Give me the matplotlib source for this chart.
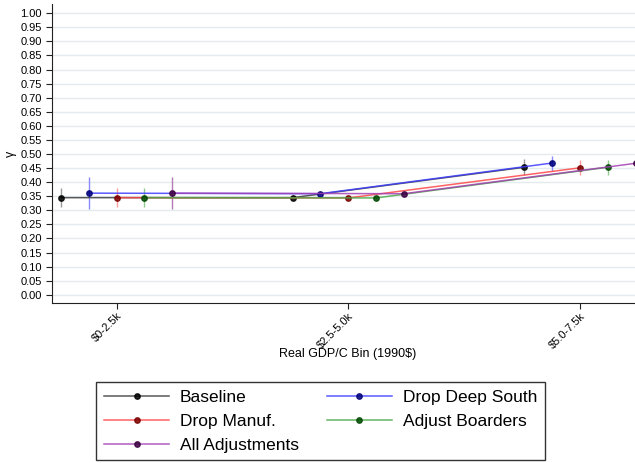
import numpy as np
import matplotlib
matplotlib.use('Agg')
import matplotlib.pyplot as plt

plt.rcParams['font.family'] = ['Liberation Sans', 'DejaVu Sans']

# GDP bins and gamma estimates per specification
bins = ['\\$0-2.5k', '\\$2.5-5.0k', '\\$5.0-7.5k']
series = ['Baseline', 'Drop Deep South', 'Drop Manuf.', 'Adjust Boarders', 'All Adjustments']

gamma_baseline = [0.345, 0.345, 0.453]
gamma_deep_south = [0.361, 0.359, 0.468]
gamma_manuf = [0.345, 0.344, 0.451]
gamma_boarders = [0.345, 0.344, 0.453]
gamma_all = [0.361, 0.359, 0.467]

# confidence interval bounds
lo_baseline = [0.311, 0.342, 0.427]
hi_baseline = [0.378, 0.348, 0.481]
lo_deep_south = [0.304, 0.356, 0.441]
hi_deep_south = [0.417, 0.362, 0.494]
lo_manuf = [0.311, 0.341, 0.426]
hi_manuf = [0.378, 0.347, 0.479]
lo_boarders = [0.311, 0.341, 0.427]
hi_boarders = [0.378, 0.347, 0.480]
lo_all = [0.304, 0.356, 0.441]
hi_all = [0.417, 0.362, 0.494]

est = [gamma_baseline, gamma_deep_south, gamma_manuf, gamma_boarders, gamma_all]
lows = [lo_baseline, lo_deep_south, lo_manuf, lo_boarders, lo_all]
highs = [hi_baseline, hi_deep_south, hi_manuf, hi_boarders, hi_all]

line_cols = ['#3a3a3a', '#3c3cff', '#ff4646', '#48a848', '#a440b4']
mark_cols = ['#000000', '#00007a', '#7a0000', '#004800', '#3a0040']
err_cols = ['#9a9a9a', '#8a8aff', '#ff9a9a', '#90c890', '#b47ab8']

fig = plt.figure(figsize=(6.35, 4.63), dpi=100)
ax = fig.add_axes([0.082, 0.3456, 0.93, 0.6454])

xbase = np.arange(len(bins))
offsets = [-0.24, -0.12, 0.0, 0.12, 0.24]
handles = []
for k, name in enumerate(series):
    xs = xbase + offsets[k]
    y = np.array(est[k])
    yerr = [y - np.array(lows[k]), np.array(highs[k]) - y]
    ax.errorbar(xs, y, yerr=yerr, fmt='none', ecolor=err_cols[k],
                elinewidth=1.0, zorder=2)
    h, = ax.plot(xs, y, '-', color=line_cols[k], lw=1.1, alpha=0.85,
                 marker='o', ms=3.9, mfc=mark_cols[k], mec=mark_cols[k],
                 zorder=3, label=name)
    handles.append(h)

ax.set_xlim(-0.278, 2.27)
ax.set_ylim(-0.029, 1.032)
ax.set_yticks(np.round(np.arange(0, 1.0001, 0.05), 2))
ax.set_yticklabels([f'{v:.2f}' for v in np.arange(0, 1.0001, 0.05)], fontsize=8)
ax.set_xticks(xbase)
ax.set_xticklabels(bins, rotation=45, ha='right', rotation_mode='anchor', fontsize=8)
ax.grid(axis='y', color='#e4ebef', lw=1.0)
ax.set_axisbelow(True)
for s in ['top', 'right']:
    ax.spines[s].set_visible(False)
for s in ['left', 'bottom']:
    ax.spines[s].set_color('#222222')
ax.tick_params(direction='out', length=4, color='#222222')
ax.tick_params(axis='x', pad=1.5)

ax.set_ylabel('γ', fontsize=9, labelpad=2)
ax.set_xlabel('Real GDP/C Bin (1990\\$)', fontsize=9, labelpad=-2)

order = [0, 2, 4, 1, 3]
leg = fig.legend([handles[i] for i in order], [series[i] for i in order],
                 loc='upper center', bbox_to_anchor=(0.505, 0.175), ncol=2,
                 borderaxespad=0, fontsize=12.5, handlelength=3.75,
                 labelspacing=0.5, columnspacing=1.6, fancybox=False,
                 framealpha=1, edgecolor='#333333', borderpad=0.45,
                 handletextpad=0.63)
leg.get_frame().set_linewidth(1.0)

fig.savefig('out.png', dpi=100)
